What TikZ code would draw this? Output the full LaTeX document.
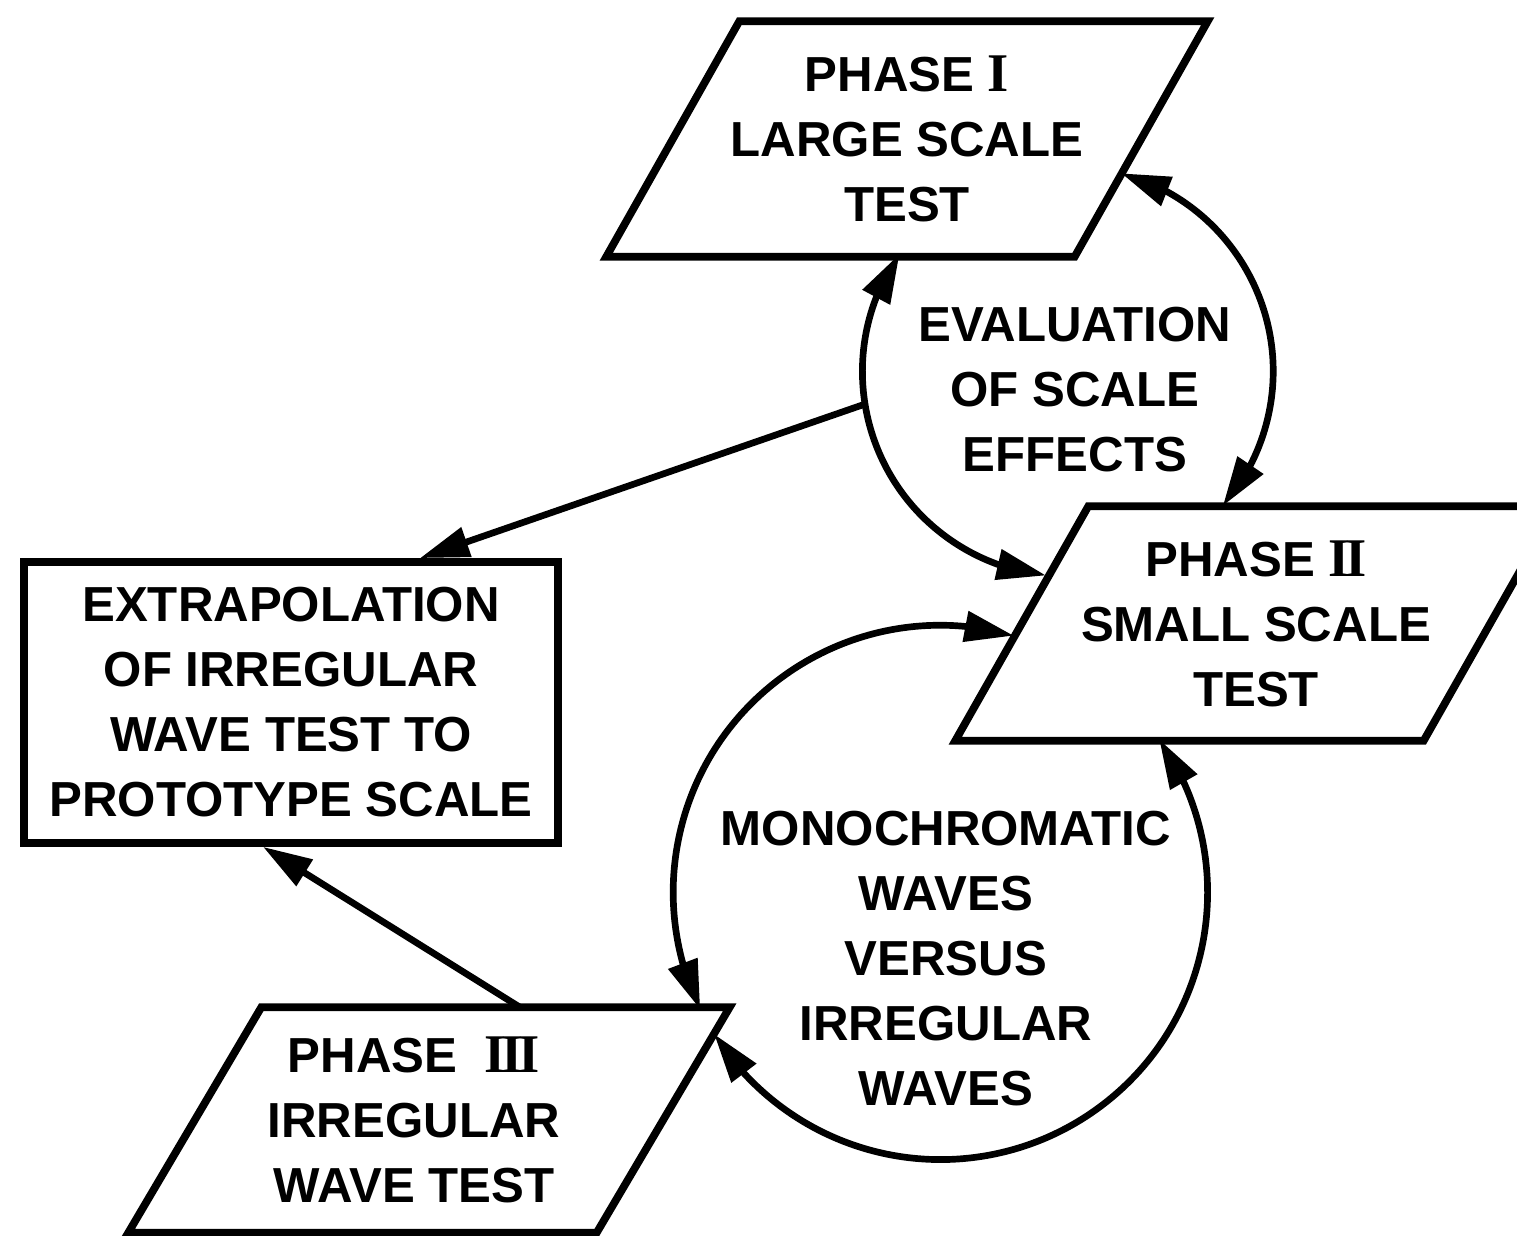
\documentclass[tikz,border=0pt]{standalone}
\usepackage{fontspec}
\setmainfont{Liberation Sans}
\newfontfamily\numfont{Liberation Serif}
\usetikzlibrary{arrows.meta,bending,calc}
\newcommand\paral[2]{%
  \draw[outline] ([xshift=0.665cm+#2]#1.north west) -- ([xshift=0.665cm+#2]#1.north east)
    -- ([xshift=-0.665cm+#2]#1.south east) -- ([xshift=-0.665cm+#2]#1.south west) -- cycle;}
\newcommand\romI{{\numfont\bfseries\fontsize{15.5}{18.5}\selectfont I}}
\newcommand\romII{{\numfont\bfseries\fontsize{15.5}{18.5}\selectfont I\kern-1.2pt I}}
\newcommand\romIII{{\numfont\bfseries\fontsize{15.5}{18.5}\selectfont I\kern-1.2pt I\kern-1.2pt I}}
\tikzset{
  txt/.style={font=\bfseries\fontsize{14}{18.5}\selectfont, align=center, inner sep=0pt},
  boxnode/.style={txt, minimum width=4.67cm, minimum height=2.34cm},
  outline/.style={line width=2.2pt, line join=miter},
  tip/.tip={Triangle[length=14pt,width=8.5pt]},
  conn/.style={line width=1.9pt, -tip},
  biconn/.style={line width=1.9pt, tip-tip},
  ring/.style={circle, inner sep=0pt},
}
\begin{document}
\begin{tikzpicture}
\path[use as bounding box, clip] (0,0) rectangle (15.17,12.36);

\node[boxnode] (p1) at (9.07,10.97) {PHASE \romI\\LARGE SCALE\\TEST};
\node[boxnode, minimum height=2.33cm] (p2) at (12.56,6.125) {PHASE \romII\\SMALL SCALE\\TEST};
\node[boxnode, minimum height=2.24cm] (p3) at (4.14,1.16) {PHASE\ \ \romIII\\IRREGULAR\\WAVE TEST};
\node[txt, draw, outline, minimum width=5.34cm, minimum height=2.81cm] (extrap) at (2.91,5.335)
  {EXTRAPOLATION\\OF IRREGULAR\\WAVE TEST TO\\PROTOTYPE SCALE};

\node[ring, minimum size=4.10cm] (eval) at (10.68,8.64) {};
\node[txt] (evaltxt) at (10.75,8.46) {EVALUATION\\OF SCALE\\EFFECTS};
\node[ring, minimum size=5.34cm] (mono) at (9.40,3.43) {};
\node[txt] (monotxt) at (9.46,2.77) {MONOCHROMATIC\\WAVES\\VERSUS\\IRREGULAR\\WAVES};

\paral{p1}{0cm}
\paral{p2}{0cm}
\paral{p3}{0.15cm}

\draw[conn] (eval.189) -- ([xshift=1.29cm]extrap.north);
\draw[conn] ([xshift=1.06cm]p3.north) -- ([xshift=-0.28cm]extrap.south);

\draw[biconn] (eval.145) arc[start angle=145, end angle=264, radius=2.05cm];
\draw[biconn] (eval.75) arc[start angle=75, end angle=-41, radius=2.05cm];
\draw[biconn] (mono.74) arc[start angle=74, end angle=206, radius=2.67cm];
\draw[biconn] (mono.35) arc[start angle=35, end angle=-148, radius=2.67cm];
\end{tikzpicture}
\end{document}
